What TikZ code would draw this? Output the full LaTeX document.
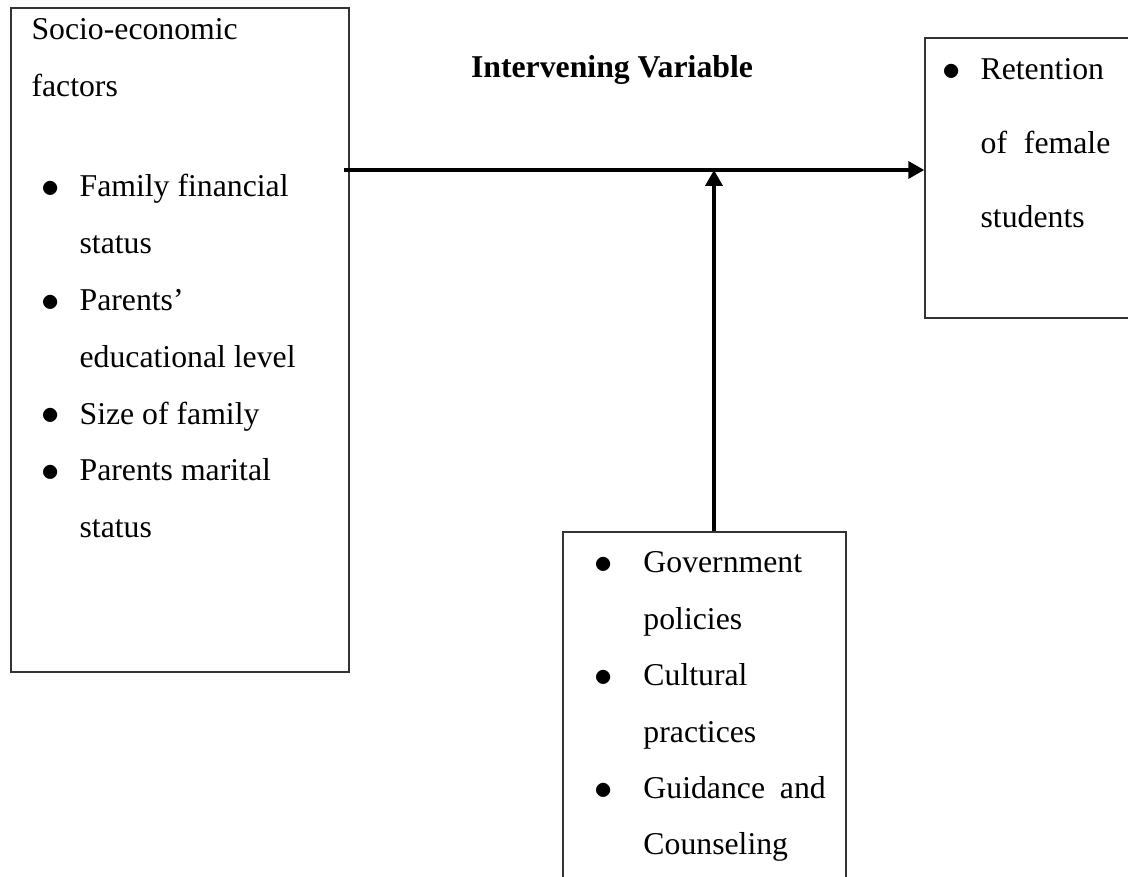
\documentclass[tikz,border=0pt]{standalone}
\usepackage{fontspec}
\setmainfont{Liberation Serif}
\usetikzlibrary{positioning,fit,arrows.meta}

% bullet line and its continuation line
\newcommand{\bitem}[2][14.4pt]{\makebox[#1][l]{\raisebox{-0.2pt}{\scalebox{1.15}{$\bullet$}}}#2}
\newcommand{\nitem}[2][14.4pt]{\hspace*{#1}#2}

\begin{document}
\begin{tikzpicture}[x=0.378pt,y=-0.378pt,
    box/.style={draw=black!80, line width=0.55pt, inner sep=0pt},
    txt/.style={anchor=base west, inner sep=0pt, font=\fontsize{12}{14.4}\selectfont},
    list/.style={txt, execute at begin node={\renewcommand\arraystretch{#1}}},
    flow/.style={line width=1.3pt, -{Triangle[length=6pt,width=6.4pt]}}]
    \useasboundingbox (0,0) rectangle (1128,877);
    \clip (0,0) rectangle (1128,877);

    % Boxes
    \node[box, fit={(11,8) (349,672)}] (socio) {};
    \node[box, fit={(925,38) (1140,318)}] (retention) {};
    \node[box, fit={(563,532) (846,890)}] (intervening) {};

    % Independent variable
    \node[list=1.49] (sociohead) at (31,40) {\begin{tabular}[t]{@{}l@{}}
        Socio-economic\\
        factors
    \end{tabular}};
    \node[list=1.49] (sociolist) at (41,197) {\begin{tabular}[t]{@{}l@{}}
        \bitem{Family financial}\\
        \nitem{status}\\
        \bitem{Parents'}\\
        \nitem{educational level}\\
        \bitem{Size of family}\\
        \bitem{Parents marital}\\
        \nitem{status}
    \end{tabular}};

    % Dependent variable
    \node[list=1.93] (retentionlist) at (942,80) {\begin{tabular}[t]{@{}l@{}}
        \bitem{Retention}\\
        \nitem{of\hspace{6.4pt}female}\\
        \nitem{students}
    \end{tabular}};

    % Intervening variable
    \node[txt, anchor=base, font=\fontsize{12}{14.4}\selectfont\bfseries] (title) at (612,78) {Intervening Variable};
    \node[list=1.48] (interveninglist) at (594,573) {\begin{tabular}[t]{@{}l@{}}
        \bitem[18.5pt]{Government}\\
        \nitem[18.5pt]{policies}\\
        \bitem[18.5pt]{Cultural}\\
        \nitem[18.5pt]{practices}\\
        \bitem[18.5pt]{Guidance\hspace{5.6pt}and}\\
        \nitem[18.5pt]{Counseling}
    \end{tabular}};

    % Arrows
    \coordinate (join) at (714,170);
    \draw[flow] ([xshift=-2.3pt]socio.east |- join) -- (retention.west |- join);
    \draw[flow] (intervening.north -| join) -- (join);
\end{tikzpicture}
\end{document}
